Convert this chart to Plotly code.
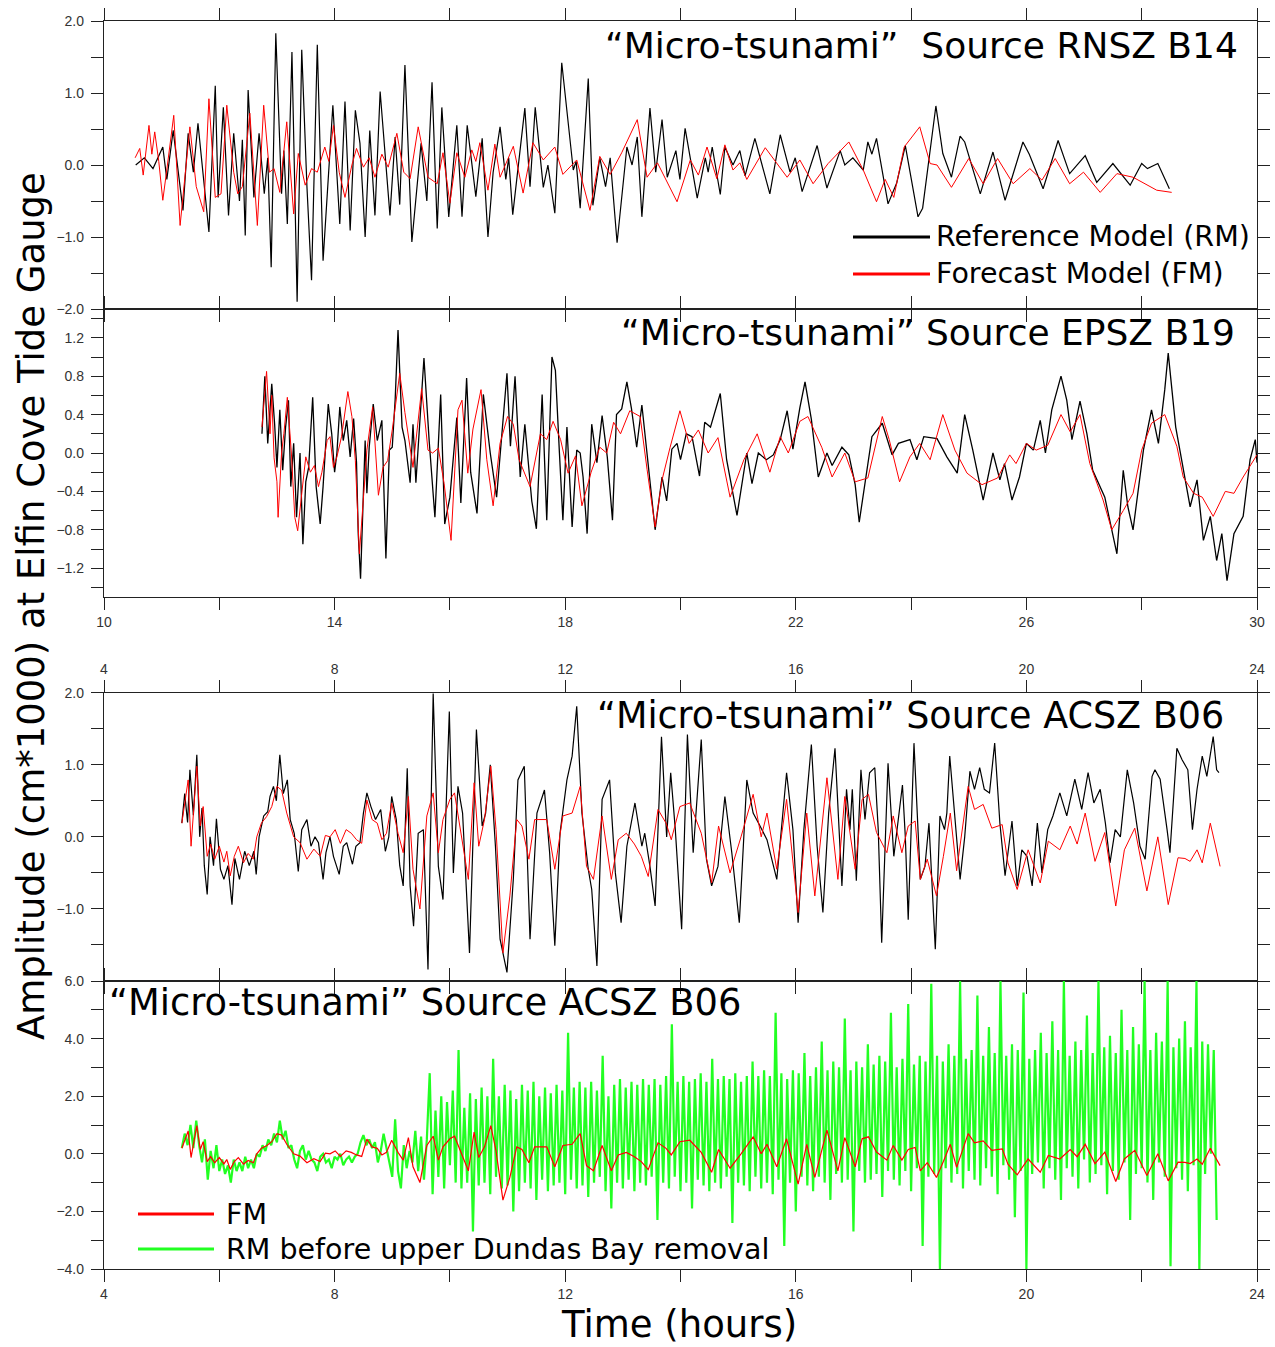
import plotly.graph_objects as go

# ---------------- DATA ----------------
# Panel 1: "Micro-tsunami" Source RNSZ B14 (hours, cm*1000)
rnsz_rm_t = [10.55,10.7,10.85,11.02,11.09,11.2,11.37,11.46,11.55,11.63,11.82,11.93,11.98,12.07,12.16,12.25,12.35,12.4,12.45,12.5,
             12.6,12.69,12.78,12.84,12.9,12.98,13.08,13.12,13.18,13.26,13.35,13.43,13.52,13.6,13.7,13.8,13.97,14.09,14.18,14.27,
             14.36,14.44,14.53,14.61,14.7,14.79,14.96,15.05,15.13,15.22,15.34,15.5,15.6,15.69,15.78,15.86,15.98,16.12,16.21,16.3,
             16.45,16.56,16.66,16.75,16.87,16.97,17.02,17.09,17.3,17.39,17.48,17.62,17.7,17.82,17.94,18.14,18.19,18.26,18.4,18.48,
             18.6,18.7,18.78,18.9,19.07,19.16,19.25,19.33,19.47,19.57,19.68,19.77,19.92,19.99,20.08,20.29,20.43,20.48,20.55,20.69,
             20.77,20.91,21.03,21.12,21.29,21.55,21.73,21.9,21.99,22.11,22.37,22.54,22.77,22.85,22.99,23.17,23.25,23.32,23.4,23.6,
             23.75,23.9,24.12,24.2,24.43,24.55,24.7,24.85,24.93,25.2,25.42,25.63,25.94,26.05,26.29,26.55,26.75,27.02,27.22,27.5,
             27.8,28.0,28.1,28.28,28.48]
rnsz_rm_v = [0.0,0.1,-0.05,0.25,-0.2,0.48,-0.63,0.44,-0.1,0.58,-0.93,1.1,-0.45,0.8,-0.7,0.44,-0.5,0.35,-0.98,1.04,
             -0.45,0.44,-0.4,0.1,-1.42,1.83,-0.4,0.2,-0.82,1.57,-1.9,1.6,-0.3,-1.6,1.67,-1.33,0.83,-0.82,0.88,-0.91,
             0.76,0.3,-1.0,0.48,-0.7,1.02,-0.7,0.39,-0.55,1.39,-1.07,0.3,-0.5,1.15,-0.88,0.8,-0.72,0.55,-0.72,0.55,
             -0.44,0.37,-1.0,-0.1,0.53,-0.2,0.1,-0.69,0.79,-0.3,0.8,-0.31,0.0,-0.67,1.42,-0.07,0.05,-0.6,1.2,-0.56,
             0.1,-0.3,0.1,-1.08,0.25,0.0,0.39,-0.72,0.79,-0.1,0.63,-0.17,0.2,-0.2,0.51,-0.46,0.1,-0.1,0.25,-0.41,
             0.25,0.0,0.2,-0.15,0.37,-0.4,0.42,-0.1,0.1,-0.37,0.27,-0.32,0.2,0.0,0.1,-0.07,0.32,0.15,0.37,-0.54,
             -0.25,0.27,-0.72,-0.6,0.82,0.16,-0.17,0.4,0.32,-0.4,0.18,-0.49,0.32,0.15,-0.33,0.34,-0.12,0.13,-0.24,0.02,
             -0.28,0.02,-0.05,0.02,-0.33]
rnsz_fm_t = [10.54,10.62,10.68,10.78,10.83,10.88,10.95,11.02,11.1,11.21,11.32,11.4,11.49,11.6,11.73,11.82,11.93,12.03,12.13,12.25,
             12.32,12.4,12.53,12.66,12.77,12.87,12.95,13.05,13.17,13.29,13.37,13.49,13.6,13.7,13.83,13.9,13.98,14.08,14.18,14.3,
             14.38,14.5,14.6,14.7,14.82,14.93,15.08,15.2,15.31,15.45,15.62,15.78,15.88,16.0,16.12,16.26,16.38,16.45,16.52,16.66,
             16.78,16.87,17.1,17.27,17.44,17.62,17.82,17.96,18.2,18.43,18.6,18.78,18.98,19.25,19.42,19.6,19.94,20.17,20.31,20.46,
             20.63,20.77,20.91,21.03,21.15,21.47,21.85,22.07,22.3,22.56,22.92,23.17,23.4,23.55,23.7,23.88,24.15,24.33,24.45,24.7,
             25.0,25.25,25.5,25.77,26.06,26.27,26.5,26.75,26.99,27.28,27.57,27.85,28.26,28.52]
rnsz_fm_v = [0.1,0.23,-0.14,0.55,0.15,0.46,0.05,-0.49,0.0,0.69,-0.84,-0.2,0.53,-0.3,-0.65,0.92,-0.45,-0.4,0.83,-0.1,
             -0.4,-0.3,0.72,-0.84,0.83,-0.1,-0.05,-0.38,0.6,-0.68,0.16,-0.28,-0.05,-0.1,0.25,0.05,0.55,-0.1,-0.45,0.0,
             0.23,-0.03,0.1,-0.17,0.15,-0.03,0.44,-0.1,-0.19,0.53,-0.17,-0.26,0.17,-0.53,0.17,-0.17,0.21,0.05,0.31,-0.35,
             0.29,-0.17,0.26,-0.39,0.31,0.07,0.25,-0.13,0.07,-0.63,0.12,-0.13,0.17,0.63,-0.17,0.03,-0.51,0.07,-0.14,0.25,
             -0.19,0.28,-0.07,0.03,-0.2,0.24,-0.17,0.07,-0.26,0.02,0.32,-0.07,-0.51,-0.2,-0.45,0.25,0.53,0.02,0.0,-0.31,
             0.09,-0.26,0.09,-0.26,-0.05,-0.21,0.09,-0.26,-0.1,-0.38,-0.12,-0.17,-0.35,-0.38]

# Panel 2: "Micro-tsunami" Source EPSZ B19
epsz_rm_t = [12.74,12.79,12.84,12.91,12.96,13.0,13.05,13.1,13.15,13.2,13.24,13.29,13.34,13.4,13.45,13.5,13.55,13.62,13.68,13.75,
             13.8,13.89,13.95,14.0,14.04,14.09,14.15,14.21,14.27,14.33,14.38,14.41,14.45,14.49,14.53,14.56,14.6,14.67,14.74,14.82,
             14.86,14.89,14.95,15.0,15.05,15.1,15.17,15.22,15.31,15.36,15.41,15.55,15.64,15.74,15.84,15.91,16.0,16.12,16.19,16.29,
             16.36,16.47,16.58,16.7,16.81,16.99,17.05,17.13,17.22,17.3,17.42,17.5,17.6,17.68,17.77,17.83,17.9,17.96,18.03,18.12,
             18.2,18.26,18.31,18.38,18.46,18.55,18.64,18.73,18.82,18.89,18.98,19.07,19.15,19.24,19.33,19.42,19.56,19.68,19.76,19.85,
             19.94,20.0,20.1,20.2,20.33,20.42,20.52,20.69,20.8,20.98,21.15,21.24,21.35,21.49,21.61,21.73,21.85,21.95,22.07,22.16,
             22.27,22.39,22.54,22.63,22.8,22.92,23.03,23.1,23.32,23.5,23.67,23.78,23.98,24.1,24.22,24.45,24.62,24.8,24.93,25.07,
             25.25,25.42,25.54,25.62,25.75,25.88,26.0,26.12,26.24,26.33,26.44,26.6,26.7,26.79,26.93,27.05,27.15,27.36,27.57,27.68,
             27.76,27.85,28.03,28.17,28.29,28.4,28.46,28.59,28.72,28.84,28.96,29.07,29.19,29.3,29.39,29.48,29.6,29.76,29.88,29.97,30.0]
epsz_rm_v = [0.2,0.8,0.1,0.72,0.3,-0.15,0.45,-0.18,0.27,0.55,-0.35,0.1,-0.67,0.0,-0.95,-0.3,-0.15,0.58,-0.35,-0.74,
             -0.35,0.51,0.2,-0.2,0.0,0.48,0.13,0.34,-0.04,0.36,-0.1,-0.84,-1.31,-0.56,0.13,-0.42,0.06,0.51,0.13,0.34,
             -0.39,-1.1,0.03,0.06,0.55,1.28,0.27,0.13,-0.31,0.3,-0.31,0.99,0.13,-0.67,0.61,-0.74,-0.46,0.37,-0.52,0.78,
             -0.2,-0.63,0.61,0.0,-0.46,0.83,0.07,0.8,-0.25,0.3,-0.5,-0.79,0.61,-0.7,1.0,0.86,0.0,-0.7,0.27,-0.77,
             0.03,0.0,-0.25,-0.84,0.3,-0.1,0.39,-0.04,-0.7,0.4,0.46,0.74,0.46,0.06,0.5,-0.03,-0.8,-0.25,-0.5,0.04,
             0.1,-0.07,0.2,0.17,-0.24,0.32,0.27,0.62,-0.07,-0.65,0.0,-0.32,0.0,-0.07,-0.02,0.14,0.44,0.04,0.47,0.74,
             0.35,-0.25,0.0,-0.13,0.06,-0.02,-0.33,-0.72,0.17,0.31,-0.02,0.1,0.14,-0.07,0.17,0.15,-0.04,-0.21,0.4,0.03,
             -0.49,0.0,-0.28,-0.11,-0.49,-0.25,0.1,0.03,0.34,0.0,0.45,0.8,0.55,0.14,0.54,0.2,-0.18,-0.46,-1.05,-0.18,
             -0.56,-0.8,0.03,0.45,0.1,0.66,1.04,0.27,-0.18,-0.56,-0.28,-0.91,-0.66,-1.12,-0.84,-1.33,-0.84,-0.66,-0.07,0.14,-0.1]
epsz_fm_t = [12.74,12.82,12.88,12.91,12.95,13.0,13.02,13.08,13.12,13.18,13.25,13.31,13.36,13.45,13.5,13.58,13.65,13.72,13.78,13.87,
             13.92,13.98,14.04,14.12,14.23,14.3,14.36,14.43,14.5,14.56,14.66,14.76,14.84,14.92,15.0,15.13,15.22,15.36,15.51,15.62,
             15.7,15.8,15.9,16.02,16.14,16.21,16.31,16.4,16.54,16.64,16.75,16.87,17.0,17.1,17.2,17.39,17.57,17.68,17.79,17.92,
             18.05,18.18,18.29,18.45,18.6,18.72,18.84,18.96,19.12,19.3,19.42,19.56,19.68,19.82,19.99,20.15,20.31,20.48,20.65,20.86,
             21.1,21.33,21.55,21.73,21.87,22.07,22.21,22.45,22.63,22.85,23.03,23.25,23.5,23.62,23.8,23.98,24.15,24.33,24.55,24.76,
             24.97,25.23,25.5,25.71,25.82,26.0,26.17,26.37,26.6,26.76,26.93,27.1,27.33,27.48,27.68,27.85,28.0,28.17,28.4,28.61,
             28.72,28.9,29.05,29.24,29.45,29.6,29.76,30.0]
epsz_fm_v = [0.27,0.85,0.2,0.6,-0.05,-0.3,-0.67,0.0,0.2,0.58,0.0,-0.67,-0.81,-0.35,-0.04,-0.2,-0.13,-0.35,-0.2,0.13,
             0.17,-0.15,-0.04,0.17,0.64,0.38,-0.08,-1.05,-0.5,0.03,0.48,-0.44,-0.15,-0.08,0.24,0.83,0.42,-0.15,0.67,0.03,
             0.0,0.05,-0.32,-0.91,0.45,0.55,-0.21,0.25,0.66,-0.07,-0.55,0.1,0.38,0.3,-0.07,-0.35,0.2,0.14,0.33,0.14,
             -0.21,-0.03,-0.55,-0.2,0.06,0.0,0.32,0.2,0.44,0.38,-0.17,-0.77,-0.28,0.06,0.44,0.1,0.24,0.0,0.16,-0.46,
             -0.07,0.2,-0.2,0.17,0.0,0.33,0.38,0.06,-0.25,0.0,-0.3,-0.26,0.38,0.14,-0.3,-0.04,0.1,-0.07,0.4,0.03,
             -0.21,-0.33,-0.26,-0.02,-0.11,0.1,0.03,0.08,0.4,0.22,0.4,-0.11,-0.49,-0.8,-0.6,-0.42,0.03,0.31,0.4,0.07,
             -0.25,-0.42,-0.46,-0.66,-0.4,-0.42,-0.25,-0.02]

# Panel 3 & 4: "Micro-tsunami" Source ACSZ B06
acsz_rm_t = [5.35,5.4,5.45,5.49,5.55,5.61,5.66,5.7,5.74,5.79,5.84,5.9,5.95,6.02,6.08,6.15,6.22,6.27,6.35,6.44,
             6.52,6.6,6.64,6.69,6.77,6.84,6.88,6.94,6.99,7.05,7.11,7.18,7.23,7.3,7.37,7.43,7.52,7.59,7.66,7.72,
             7.8,7.85,7.92,7.98,8.08,8.15,8.21,8.31,8.37,8.44,8.5,8.56,8.63,8.71,8.8,8.88,8.94,8.99,9.07,9.13,
             9.19,9.26,9.31,9.37,9.45,9.54,9.62,9.71,9.8,9.88,9.99,10.06,10.14,10.22,10.34,10.46,10.56,10.62,10.7,10.79,
             10.87,10.99,11.1,11.18,11.29,11.39,11.51,11.64,11.73,11.82,11.91,12.03,12.12,12.2,12.29,12.4,12.46,12.55,12.64,12.77,
             12.87,12.97,13.07,13.21,13.33,13.38,13.47,13.56,13.67,13.76,13.83,13.91,14.02,14.12,14.22,14.36,14.45,14.54,14.65,14.77,
             14.89,15.02,15.15,15.26,15.38,15.5,15.67,15.84,15.95,16.04,16.14,16.27,16.37,16.47,16.57,16.68,16.8,16.88,16.94,16.98,
             17.05,17.13,17.2,17.28,17.37,17.43,17.49,17.6,17.7,17.78,17.85,17.9,17.95,18.05,18.16,18.24,18.31,18.42,18.5,18.58,
             18.62,18.67,18.85,18.93,19.02,19.1,19.19,19.27,19.36,19.45,19.54,19.63,19.75,19.84,19.92,20.01,20.1,20.19,20.27,20.37,
             20.46,20.58,20.7,20.84,20.96,21.07,21.17,21.28,21.37,21.45,21.54,21.63,21.75,21.86,21.97,22.06,22.18,22.23,22.32,22.44,
             22.49,22.61,22.7,22.8,22.88,22.96,23.05,23.13,23.24,23.3,23.34]
acsz_rm_v = [0.19,0.6,0.2,0.93,0.3,1.14,0.0,0.4,-0.4,-0.8,0.0,-0.4,0.25,-0.45,-0.59,-0.4,-0.94,-0.3,-0.59,-0.2,
             -0.4,-0.2,-0.52,0.0,0.29,0.35,0.56,0.7,0.5,1.14,0.6,0.79,0.24,0.05,-0.48,0.1,0.24,-0.13,0.0,-0.08,
             -0.59,-0.22,0.0,-0.27,-0.52,-0.13,-0.08,-0.38,-0.13,-0.08,0.33,0.61,0.42,0.24,0.38,-0.2,0.0,0.56,0.24,-0.4,
             -0.68,0.95,-0.68,-1.24,0.05,0.1,-1.84,1.99,-0.41,-0.87,1.74,-0.5,0.7,0.33,-1.61,1.49,0.15,0.33,1.0,-0.13,
             -1.42,-1.88,-0.59,0.79,0.98,-1.42,0.33,0.65,-0.22,-1.51,0.05,0.79,1.12,1.81,0.33,-0.45,-0.73,-1.79,0.52,0.79,
             -0.5,-1.19,-0.13,0.47,-0.13,0.05,-0.41,-0.96,1.39,0.0,0.89,0.1,-1.28,1.42,-0.22,1.35,-0.31,-0.68,-0.41,0.56,
             -0.22,-1.19,0.79,0.33,0.15,-0.04,-0.59,0.89,0.1,-1.19,0.1,1.28,-0.13,-1.05,0.33,1.23,-0.68,0.66,0.1,0.66,
             -0.61,0.93,0.24,0.89,0.96,0.1,-1.47,1.02,-0.27,0.26,0.72,0.0,-1.15,1.3,-0.59,-0.41,0.19,-1.56,0.29,0.1,
             0.33,1.12,-0.59,0.0,0.91,0.66,0.96,0.66,0.61,1.3,0.19,-0.54,0.22,-0.68,-0.18,-0.27,-0.68,0.19,-0.5,0.1,
             0.29,0.61,0.29,0.8,0.38,0.89,0.47,0.66,0.19,-0.36,0.1,0.0,0.93,0.47,-0.13,-0.31,0.84,0.93,0.8,0.1,
             -0.22,1.23,1.07,0.93,0.1,0.66,1.12,0.84,1.39,0.93,0.89]
acsz_fm_t = [5.35,5.41,5.46,5.51,5.56,5.61,5.67,5.72,5.79,5.85,5.92,6.0,6.08,6.13,6.19,6.26,6.33,6.42,6.5,6.59,
             6.65,6.73,6.82,6.91,7.0,7.08,7.17,7.29,7.4,7.52,7.64,7.75,7.84,7.92,8.01,8.1,8.2,8.29,8.38,8.47,
             8.56,8.65,8.74,8.82,8.9,8.99,9.1,9.19,9.28,9.36,9.48,9.6,9.71,9.8,9.88,10.0,10.08,10.17,10.32,10.42,
             10.5,10.6,10.71,10.8,10.92,11.04,11.16,11.25,11.37,11.47,11.68,11.82,11.96,12.12,12.26,12.37,12.49,12.64,12.8,12.92,
             13.06,13.2,13.32,13.44,13.61,13.75,13.84,13.99,14.16,14.36,14.54,14.66,14.86,15.05,15.26,15.4,15.5,15.67,15.84,16.04,
             16.19,16.33,16.54,16.73,16.85,17.03,17.15,17.26,17.4,17.58,17.69,17.84,17.95,18.07,18.16,18.28,18.44,18.56,18.68,18.79,
             18.99,19.1,19.25,19.4,19.58,19.68,19.84,20.03,20.24,20.38,20.58,20.76,20.88,21.02,21.19,21.36,21.55,21.7,21.88,22.09,
             22.28,22.46,22.63,22.75,22.84,22.96,23.05,23.19,23.36]
acsz_fm_v = [0.19,0.56,0.79,-0.13,0.42,0.98,0.15,0.42,-0.27,-0.1,-0.31,-0.13,-0.35,-0.2,-0.54,-0.27,-0.13,-0.36,-0.23,-0.31,
             0.0,0.19,0.28,0.42,0.7,0.65,0.33,0.0,-0.08,-0.31,-0.17,-0.27,0.02,0.0,0.1,-0.09,0.1,0.05,-0.04,-0.09,
             0.51,0.24,0.19,-0.04,0.05,0.47,0.05,-0.22,0.56,-0.45,-1.0,0.29,0.61,-0.22,0.24,0.52,0.61,0.15,-0.59,0.75,
             -0.13,0.24,0.98,0.1,-1.61,-0.82,0.24,0.15,-0.31,0.24,0.24,-0.45,0.29,0.33,0.7,-0.41,-0.59,0.29,-0.59,-0.04,
             0.05,-0.1,-0.27,-0.55,0.38,0.19,-0.04,0.42,0.47,0.05,-0.64,0.15,-0.5,0.0,0.59,0.0,0.33,-0.45,0.52,-1.05,
             0.33,-0.82,0.82,-0.59,0.56,-0.45,0.52,0.59,0.06,-0.22,0.29,-0.22,0.15,0.22,-0.59,-0.31,-0.82,-0.27,0.33,-0.47,
             0.7,0.38,0.45,0.12,0.17,-0.36,-0.73,-0.18,-0.64,-0.06,-0.18,0.15,-0.1,0.33,-0.34,0.06,-0.96,-0.18,0.12,-0.75,
             0.0,-0.94,-0.29,-0.3,-0.34,-0.18,-0.36,0.19,-0.41]

# Panel 4: RM before upper Dundas Bay removal, sampled every 0.05 h from 5.35 h
green_start = 5.35
green_step = 0.05
acsz_rm_before_v = [
    0.2,0.7,0.3,1.0,0.2,1.15,0.3,-0.3,0.5,-0.9,0.1,-0.5,0.3,-0.6,-0.2,-0.7,-0.4,-1.0,-0.2,-0.6,
    -0.3,-0.6,-0.1,-0.5,-0.2,-0.5,0.0,-0.1,0.3,0.1,0.5,0.3,0.7,0.4,1.15,0.5,0.8,0.2,0.3,-0.2,
    -0.5,0.1,0.3,-0.2,0.1,-0.2,-0.3,-0.6,-0.1,0.0,-0.3,-0.2,-0.5,-0.1,-0.2,0.0,-0.4,-0.2,-0.1,-0.3,
    -0.1,0.0,0.4,0.65,0.3,0.5,0.2,0.4,-0.3,0.1,0.7,0.2,-0.4,-0.8,1.2,-0.6,-1.2,0.3,-0.5,0.1,
    -0.3,0.8,-0.6,0.6,-0.9,0.5,2.8,-1.4,1.5,-0.8,2.0,-1.2,1.8,-0.4,2.2,-1.0,3.6,-1.2,1.6,-1.0,
    2.1,-2.7,1.9,-1.1,2.3,-1.0,2.0,-1.4,3.3,-0.8,2.0,-1.2,2.4,-1.1,2.2,-2.0,1.9,-1.3,2.4,-1.0,
    2.2,-1.2,2.5,-1.6,2.0,-0.9,2.3,-1.3,2.1,-1.1,2.4,-1.0,2.2,-1.4,4.2,-0.9,2.3,-1.2,2.5,-1.1,
    2.3,-1.5,2.5,-1.0,2.2,-0.8,3.4,-1.3,2.0,-1.9,2.4,-1.0,2.6,-1.2,2.3,-0.9,2.5,-1.3,2.4,-1.0,
    2.6,-1.1,2.4,-0.8,2.6,-2.3,2.4,-1.0,2.7,-1.2,4.5,-0.8,2.5,-1.3,2.7,-1.0,2.5,-1.9,2.6,-0.9,
    2.8,-1.1,2.5,-1.3,3.3,-1.0,2.6,-1.2,2.7,-0.8,2.6,-2.4,2.8,-1.0,2.5,-1.1,2.7,-1.3,3.2,-0.8,
    2.7,-1.2,2.9,-1.0,2.7,-1.4,4.9,-0.9,2.8,-3.2,2.6,-1.0,2.9,-2.0,2.8,-0.8,3.5,-1.1,2.7,-1.3,
    3.0,-0.8,3.9,-1.0,2.9,-1.6,3.2,-0.7,3.0,-1.0,4.7,-0.9,2.9,-2.7,3.2,-0.6,3.0,-1.0,3.8,-0.9,
    3.1,-0.7,3.4,-1.5,3.2,-0.6,4.9,-0.9,3.0,-1.1,3.3,-0.6,5.2,-1.3,3.1,-0.5,3.4,-3.2,3.2,-0.8,
    5.9,-0.7,3.4,-4.0,3.2,-0.5,3.8,-1.0,3.4,-0.7,6.0,-1.2,3.3,-0.6,3.6,-0.9,5.5,-1.1,3.4,-0.5,
    4.4,-0.8,3.5,-1.4,6.0,-0.4,3.4,-0.9,3.8,-2.2,3.6,-0.6,5.6,-4.0,3.3,-0.7,3.6,-0.3,4.2,-1.2,
    3.5,-0.5,4.6,-0.9,3.6,-1.6,6.0,-0.5,3.4,-0.8,3.9,-1.2,3.6,-0.2,4.8,-1.0,3.5,-0.7,6.0,-0.4,
    3.7,-1.4,4.1,-0.6,3.5,-0.9,5.0,-0.3,3.6,-2.3,4.4,-0.7,3.8,-0.5,6.0,-1.0,3.6,-1.6,4.2,-0.3,
    3.9,-0.8,6.0,-3.9,3.7,-0.5,4.0,-0.9,4.6,-1.3,3.7,-0.4,6.0,-4.0,3.9,-0.7,3.8,0.0,3.6,-2.3]
acsz_rm_before_t = [round(green_start + i * green_step, 3) for i in range(len(acsz_rm_before_v))]

# Tick definitions
x_ticks_top = [10,12,14,16,18,20,22,24,26,28,30]
x_ticks_bot = [4,6,8,10,12,14,16,18,20,22,24]
y1_ticks = [-2,-1.5,-1,-0.5,0,0.5,1,1.5,2]
y1_text = ['\u22122.0','','\u22121.0','','0.0','','1.0','','2.0']
y2_ticks = [-1.4,-1.2,-1.0,-0.8,-0.6,-0.4,-0.2,0,0.2,0.4,0.6,0.8,1.0,1.2,1.4]
y2_text = ['','\u22121.2','','\u22120.8','','\u22120.4','','0.0','','0.4','','0.8','','1.2','']
y3_ticks = [-2,-1.5,-1,-0.5,0,0.5,1,1.5,2]
y3_text = ['','','\u22121.0','','0.0','','1.0','','2.0']
y4_ticks = [-4,-3,-2,-1,0,1,2,3,4,5,6]
y4_text = ['\u22124.0','','\u22122.0','','0.0','','2.0','','4.0','','6.0']

# ---------------- FIGURE ----------------
W, H = 1275, 1347
def px(x): return x / W
def py(y): return 1 - y / H

BLACK = '#000000'
RED = '#ff0000'
GREEN = '#22ff22'

fig = go.Figure()
def add(x, y, color, width, xa, ya):
    fig.add_trace(go.Scatter(x=x, y=y, mode='lines', line=dict(color=color, width=width),
                             xaxis=xa, yaxis=ya, showlegend=False, hoverinfo='skip'))

add(rnsz_rm_t, rnsz_rm_v, BLACK, 1.2, 'x', 'y')
add(rnsz_fm_t, rnsz_fm_v, RED, 1.0, 'x', 'y')
add(epsz_rm_t, epsz_rm_v, BLACK, 1.3, 'x2', 'y2')
add(epsz_fm_t, epsz_fm_v, RED, 1.0, 'x2', 'y2')
add(acsz_rm_t, acsz_rm_v, BLACK, 1.2, 'x3', 'y3')
add(acsz_fm_t, acsz_fm_v, RED, 1.0, 'x3', 'y3')
add(acsz_rm_before_t, acsz_rm_before_v, GREEN, 2.2, 'x4', 'y4')
add(acsz_fm_t, acsz_fm_v, RED, 1.2, 'x4', 'y4')

AX = '#222222'
TICKFONT = dict(family='Liberation Sans, Arial, sans-serif', size=14, color='#333333')
xdom = [px(104), px(1257)]

def xax(rng, vals, text, anchor, side='bottom'):
    return dict(domain=xdom, range=rng, anchor=anchor, side=side, tickmode='array',
                tickvals=vals, ticktext=text, ticks='outside', ticklen=12, tickwidth=1.4,
                tickcolor=AX, showline=True, linecolor=AX, linewidth=1.3, mirror='ticks',
                showgrid=False, zeroline=False, tickfont=TICKFONT, ticklabelstandoff=0,
                automargin=False)

def yax(rng, dom, vals, text, anchor):
    return dict(domain=dom, range=rng, anchor=anchor, tickmode='array',
                tickvals=vals, ticktext=text, ticks='outside', ticklen=12, tickwidth=1.4,
                tickcolor=AX, showline=True, linecolor=AX, linewidth=1.3, mirror='ticks',
                showgrid=False, zeroline=False, tickfont=TICKFONT, ticklabelstandoff=4,
                automargin=False)

lab_top = [str(v) if (v - 10) % 4 == 0 else '' for v in x_ticks_top]
lab_bot = [str(v) if v % 4 == 0 else '' for v in x_ticks_bot]

fig.update_layout(
    width=W, height=H, margin=dict(l=0, r=0, t=0, b=0, autoexpand=False),
    paper_bgcolor='white', plot_bgcolor='white',
    xaxis=xax([10, 30], x_ticks_top, ['' for _ in x_ticks_top], 'y'),
    yaxis=yax([-2, 2], [py(309), py(21)], y1_ticks, y1_text, 'x'),
    xaxis2=xax([10, 30], x_ticks_top, lab_top, 'y2'),
    yaxis2=yax([-1.5, 1.5], [py(597), py(309)], y2_ticks, y2_text, 'x2'),
    xaxis3=xax([4, 24], x_ticks_bot, lab_bot, 'y3', side='top'),
    yaxis3=yax([-2, 2], [py(981), py(692.7)], y3_ticks, y3_text, 'x3'),
    xaxis4=xax([4, 24], x_ticks_bot, lab_bot, 'y4'),
    yaxis4=yax([-4, 6], [py(1269), py(981)], y4_ticks, y4_text, 'x4'),
)

BIG = 'DejaVu Sans, Verdana, sans-serif'
def note(text, x, y, size, xanchor='left', angle=0):
    fig.add_annotation(text=text, x=x, y=y, xref='paper', yref='paper', showarrow=False,
                       xanchor=xanchor, yanchor='middle', textangle=angle,
                       font=dict(family=BIG, size=size, color='black'))

NB = '\u00a0'
note('\u201cMicro-tsunami\u201d' + NB + NB + 'Source RNSZ B14', px(1240), py(46), 36, 'right')
note('\u201cMicro-tsunami\u201d Source EPSZ B19', px(1237), py(332), 36, 'right')
note('\u201cMicro-tsunami\u201d' + NB + 'Source ACSZ B06', px(1226), py(716), 36.5, 'right')
note('\u201cMicro-tsunami\u201d' + NB + 'Source ACSZ B06', px(107), py(1002), 36.8, 'left')

# legends (panel 1)
for yy, col, txt in [(237, BLACK, 'Reference Model (RM)'), (274, RED, 'Forecast Model (FM)')]:
    fig.add_shape(type='line', xref='paper', yref='paper', x0=px(853), x1=px(930), y0=py(yy), y1=py(yy),
                  line=dict(color=col, width=3))
    note(txt, px(934), py(yy), 28.5, 'left')
# legends (panel 4)
for yy, col, txt in [(1214, RED, 'FM'), (1249, GREEN, 'RM before upper Dundas Bay removal')]:
    fig.add_shape(type='line', xref='paper', yref='paper', x0=px(138), x1=px(214), y0=py(yy), y1=py(yy),
                  line=dict(color=col, width=3))
    note(txt, px(224), py(yy), 28.5, 'left')

# axis titles
note('Amplitude (cm*1000) at Elfin Cove Tide Gauge', px(31), py(606), 37, 'center', -90)
note('Time (hours)', px(679), py(1324), 37, 'center')

fig.write_html('out.html')
